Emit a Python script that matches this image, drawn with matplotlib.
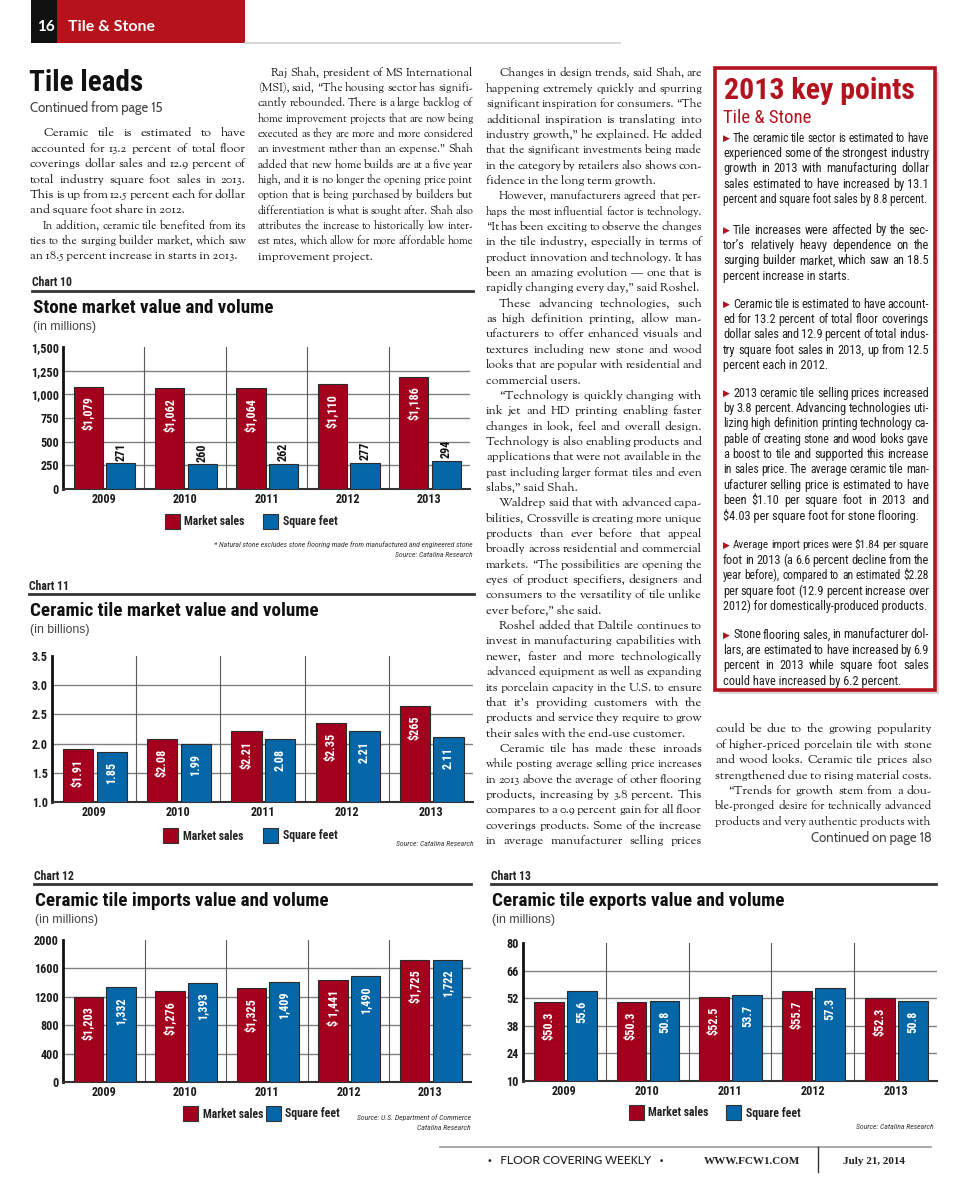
# -*- coding: utf-8 -*-
import numpy as np
import matplotlib
matplotlib.use('Agg')
import matplotlib.pyplot as plt
from matplotlib import font_manager as fm
from matplotlib.patches import Rectangle
from matplotlib.lines import Line2D

plt.rcParams['text.parse_math'] = False

# ---- data ----
years = ['2009', '2010', '2011', '2012', '2013']

stone_sales = [1079, 1062, 1064, 1110, 1186]
stone_sqft = [271, 260, 262, 277, 294]

ceramic_sales = [1.91, 2.08, 2.21, 2.35, 2.65]
ceramic_sales_lbl = ['$1.91', '$2.08', '$2.21', '$2.35', '$265']
ceramic_sqft = [1.85, 1.99, 2.08, 2.21, 2.11]

import_sales = [1203, 1276, 1325, 1441, 1725]
import_sales_lbl = ['$1,203', '$1,276', '$1,325', '$ 1,441', '$1,725']
import_sqft = [1332, 1393, 1409, 1490, 1722]

export_sales = [50.3, 50.3, 52.5, 55.7, 52.3]
export_sqft = [55.6, 50.8, 53.7, 57.3, 50.8]

col1 = [
    ["Ceramic tile is estimated to have",
     "accounted for 13.2 percent of total floor",
     "coverings dollar sales and 12.9 percent of",
     "total industry square foot sales in 2013.",
     "This is up from 12.5 percent each for dollar",
     "and square foot share in 2012."],
    ["In addition, ceramic tile benefited from its",
     "ties to the surging builder market, which saw",
     "an 18.5 percent increase in starts in 2013."],
]
col2 = [
    ["Raj Shah, president of MS International",
     "(MSI), said, \u201cThe housing sector has signifi-",
     "cantly rebounded. There is a large backlog of",
     "home improvement projects that are now being",
     "executed as they are more and more considered",
     "an investment rather than an expense.\u201d Shah",
     "added that new home builds are at a five year",
     "high, and it is no longer the opening price point",
     "option that is being purchased by builders but",
     "differentiation is what is sought after. Shah also",
     "attributes the increase to historically low inter-",
     "est rates, which allow for more affordable home",
     "improvement project."],
]
col3 = [
    ["Changes in design trends, said Shah, are",
     "happening extremely quickly and spurring",
     "significant inspiration for consumers. \u201cThe",
     "additional inspiration is translating into",
     "industry growth,\u201d he explained. He added",
     "that the significant investments being made",
     "in the category by retailers also shows con-",
     "fidence in the long term growth."],
    ["However, manufacturers agreed that per-",
     "haps the most influential factor is technology.",
     "\u201cIt has been exciting to observe the changes",
     "in the tile industry, especially in terms of",
     "product innovation and technology. It has",
     "been an amazing evolution \u2014 one that is",
     "rapidly changing every day,\u201d said Roshel."],
    ["These advancing technologies, such",
     "as high definition printing, allow man-",
     "ufacturers to offer enhanced visuals and",
     "textures including new stone and wood",
     "looks that are popular with residential and",
     "commercial users."],
    ["\u201cTechnology is quickly changing with",
     "ink jet and HD printing enabling faster",
     "changes in look, feel and overall design.",
     "Technology is also enabling products and",
     "applications that were not available in the",
     "past including larger format tiles and even",
     "slabs,\u201d said Shah."],
    ["Waldrep said that with advanced capa-",
     "bilities, Crossville is creating more unique",
     "products than ever before that appeal",
     "broadly across residential and commercial",
     "markets. \u201cThe possibilities are opening the",
     "eyes of product specifiers, designers and",
     "consumers to the versatility of tile unlike",
     "ever before,\u201d she said."],
    ["Roshel added that Daltile continues to",
     "invest in manufacturing capabilities with",
     "newer, faster and more technologically",
     "advanced equipment as well as expanding",
     "its porcelain capacity in the U.S. to ensure",
     "that it\u2019s providing customers with the",
     "products and service they require to grow",
     "their sales with the end-use customer."],
    ["Ceramic tile has made these inroads",
     "while posting average selling price increases",
     "in 2013 above the average of other flooring",
     "products, increasing by 3.8 percent. This",
     "compares to a 0.9 percent gain for all floor",
     "coverings products. Some of the increase",
     "in average manufacturer selling prices"],
]
col4 = [
    ["could be due to the growing popularity",
     "of higher-priced porcelain tile with stone",
     "and wood looks. Ceramic tile prices also",
     "strengthened due to rising material costs."],
    ["\u201cTrends for growth stem from a dou-",
     "ble-pronged desire for technically advanced",
     "products and very authentic products with"],
]
key_points = [
    ["The ceramic tile sector is estimated to have",
     "experienced some of the strongest industry",
     "growth in 2013 with manufacturing dollar",
     "sales estimated to have increased by 13.1",
     "percent and square foot sales by 8.8 percent."],
    ["Tile increases were affected by the sec-",
     "tor\u2019s relatively heavy dependence on the",
     "surging builder market, which saw an 18.5",
     "percent increase in starts."],
    ["Ceramic tile is estimated to have account-",
     "ed for 13.2 percent of total floor coverings",
     "dollar sales and 12.9 percent of total indus-",
     "try square foot sales in 2013, up from 12.5",
     "percent each in 2012."],
    ["2013 ceramic tile selling prices increased",
     "by 3.8 percent. Advancing technologies uti-",
     "lizing high definition printing technology ca-",
     "pable of creating stone and wood looks gave",
     "a boost to tile and supported this increase",
     "in sales price. The average ceramic tile man-",
     "ufacturer selling price is estimated to have",
     "been $1.10 per square foot in 2013 and",
     "$4.03 per square foot for stone flooring."],
    ["Average import prices were $1.84 per square",
     "foot in 2013 (a 6.6 percent decline from the",
     "year before), compared to an estimated $2.28",
     "per square foot (12.9 percent increase over",
     "2012) for domestically-produced products."],
    ["Stone flooring sales, in manufacturer dol-",
     "lars, are estimated to have increased by 6.9",
     "percent in 2013 while square foot sales",
     "could have increased by 6.2 percent."],
]
key_y = [138, 230, 304, 393, 545, 635]


# ---- fonts ----
def pick(cands, bold=False, italic=False):
    for c in cands:
        for f in fm.fontManager.ttflist:
            if f.name != c:
                continue
            w = f.weight if isinstance(f.weight, int) else fm.weight_dict.get(f.weight, 400)
            if bold and w < 700:
                continue
            if italic and f.style == 'normal':
                continue
            return c
    return 'DejaVu Sans'

NARROW = ['Roboto Condensed', 'Archivo Narrow', 'PT Sans Narrow', 'Liberation Sans Narrow',
          'Sofia Sans Condensed', 'Barlow Condensed', 'Saira SemiCondensed']
SERIF = pick(['Sorts Mill Goudy', 'EB Garamond', 'Liberation Serif'])
SERIF_B = pick(['Liberation Serif', 'DejaVu Serif'], bold=True)
NAR = pick(NARROW)
NAR_B = pick(NARROW, bold=True)
NAR_I = pick(NARROW, italic=True)
SANS = pick(['Liberation Sans', 'Arimo', 'DejaVu Sans'])
GILL = pick(['Gill Sans', 'Gillius ADF', 'Cabin', 'Lato'])
GILL_B = pick(['Gill Sans', 'Gillius ADF', 'Cabin', 'Lato'], bold=True)

RED = '#a3001e'
BLUE = '#0566a8'
BOXRED = '#b3131f'
INK = '#151515'

W, H = 960, 1189
fig = plt.figure(figsize=(W / 100, H / 100), dpi=100)
fig.patch.set_facecolor('white')
renderer = fig.canvas.get_renderer()


def fx(x):
    return x / W


def fy(y):
    return 1 - y / H


def txt(x, y, s, **kw):
    kw.setdefault('va', 'center')
    return fig.text(fx(x), fy(y), s, **kw)


def rect(x0, y0, x1, y1, **kw):
    fig.add_artist(Rectangle((fx(x0), fy(y1)), (x1 - x0) / W, (y1 - y0) / H,
                             transform=fig.transFigure, **kw))


def hline(x0, x1, y, **kw):
    fig.add_artist(Line2D([fx(x0), fx(x1)], [fy(y), fy(y)], transform=fig.transFigure, **kw))


def put_line(x0, x1, y, line, justify, size, **kw):
    words = line.split()
    if not justify:
        # shrink an over-long last line too
        while True:
            t = txt(x0, y, line, size=size, ha='left', **kw)
            if t.get_window_extent(renderer).width <= x1 - x0 or size < 5:
                return
            t.remove()
            size -= 0.2
    while True:
        ts = [txt(x0, y, w, size=size, ha='left', **kw) for w in words]
        widths = [t.get_window_extent(renderer).width for t in ts]
        gap = (x1 - x0 - sum(widths)) / max(len(ts) - 1, 1)
        if gap >= 1.8 or size < 5:
            break
        for t in ts:
            t.remove()
        size -= 0.2
    pos = x0
    for t, w in zip(ts, widths):
        t.set_x(fx(pos))
        pos += w + gap


def column(x0, x1, y0, paras, lh=15.35, indent=13, size=8.9, first_indent=True,
           open_end=False, **kw):
    y = y0
    for i, para in enumerate(paras):
        for j, line in enumerate(para):
            xs = x0 + (indent if (j == 0 and (i > 0 or first_indent)) else 0)
            last = j == len(para) - 1
            just = (not last) or (open_end and i == len(paras) - 1)
            put_line(xs, x1, y, line, just, size, **kw)
            y += lh


# ---- header ----
rect(31, 0, 57, 43, fc='#111111', ec='none')
rect(57, 0, 245, 43, fc='#b5121b', ec='none')
hline(245, 620, 43, color='#cfcfcf', lw=1.2)
txt(37, 27, '16', color='white', size=11, weight='bold', family=GILL_B)
txt(68, 27, 'Tile & Stone', color='white', size=11.5, weight='bold', family=GILL_B)

# ---- article head ----
txt(29, 83, 'Tile leads', size=21, weight='bold', family=NAR_B, color='#111')
txt(30, 108, 'Continued from page 15', size=9.5, family=GILL, color='#444')

column(30, 246, 133, col1, family=SERIF, color=INK)
column(258, 473, 72, col2, family=SERIF, color=INK)
column(486, 702, 73, col3, family=SERIF, color=INK, open_end=True)
column(715, 932, 729, col4, family=SERIF, color=INK, first_indent=False)
txt(932, 838, 'Continued on page 18', size=9.5, family=GILL, color='#444', ha='right')

# ---- key points box ----
rect(719, 72, 939, 694, fc='#bdbdbd', ec='none', alpha=0.6)
rect(715, 68, 935, 690, fc='white', ec=BOXRED, lw=2.6)
txt(724, 91, '2013 key points', size=21.5, weight='bold', family=NAR_B, color=BOXRED)
txt(723, 118, 'Tile & Stone', size=13.5, family=NAR, color=BOXRED)
for para, y0 in zip(key_points, key_y):
    txt(723, y0 + 0.5, '\u25b6', size=6.5, color=BOXRED, family='DejaVu Sans')
    y = y0
    for j, line in enumerate(para):
        xs = 733 if j == 0 else 723
        put_line(xs, 929, y, line, j < len(para) - 1, 8.9, family=NAR, color='#1e1e1e')
        y += 15.4


# ---- charts ----
def chart(num, lx, ly, lx1, box, ylim, ticks, tick_fmt, red, red_lbl, blue, blue_lbl,
          title, sub, legend, blue_outside=False):
    l, t, r, b = box
    txt(lx, ly, 'Chart %d' % num, size=8.5, weight='bold', family=NAR_B, color='#222')
    hline(lx, lx1, ly + 7.5, color='#333', lw=2)
    txt(lx + 1, ly + 25, title, size=13.8, weight='bold', family=NAR_B, color='#111')
    txt(lx + 1, ly + 44, sub, size=8.8, family=SANS, color='#444')

    ax = fig.add_axes([fx(l), fy(b), (r - l) / W, (b - t) / H])
    x = np.arange(len(years))
    ax.bar(x - 0.19, red, 0.36, color=RED, edgecolor='#2b2b2b', lw=0.8, zorder=3)
    ax.bar(x + 0.21, blue, 0.36, color=BLUE, edgecolor='#2b2b2b', lw=0.8, zorder=3)
    ax.set_xlim(-0.5, len(years) - 0.5)
    ax.set_ylim(*ylim)
    for v in ticks[1:-1]:
        ax.axhline(v, color='#808080', lw=1.0, zorder=1)
    for v in x[:-1] + 0.5:
        ax.axvline(v, color='#5a5a5a', lw=0.8, zorder=1)
    ax.set_yticks(ticks)
    ax.set_yticklabels([tick_fmt(v) for v in ticks])
    ax.set_xticks(x)
    ax.set_xticklabels(years)
    ax.tick_params(length=0, pad=3)
    for lab in ax.get_yticklabels() + ax.get_xticklabels():
        lab.set_family(NAR_B)
        lab.set_weight('bold')
        lab.set_size(8.7)
        lab.set_color('#1a1a1a')
    for s in ('top', 'right'):
        ax.spines[s].set_visible(False)
    ax.spines['left'].set_linewidth(2)
    ax.spines['left'].set_color('#111')
    ax.spines['bottom'].set_linewidth(1.5)
    ax.spines['bottom'].set_color('#333')
    ax.patch.set_alpha(0)

    lab_kw = dict(rotation=90, ha='center', textcoords='offset points', weight='bold',
                  family=NAR_B, size=8.7, zorder=4)
    for xi, v, s in zip(x, red, red_lbl):
        ax.annotate(s, (xi - 0.19, v), xytext=(0, -7), va='top', color='white', **lab_kw)
    for xi, v, s in zip(x, blue, blue_lbl):
        if blue_outside:
            ax.annotate(s, (xi + 0.21, v), xytext=(0, 2), va='bottom', color='#111', **lab_kw)
        else:
            ax.annotate(s, (xi + 0.21, v), xytext=(0, -7), va='top', color='white', **lab_kw)

    (ly_leg, rx0, tx0, bx0, tx1) = legend
    rect(rx0, ly_leg - 8, rx0 + 15, ly_leg + 7, fc=RED, ec='#333', lw=0.8)
    txt(tx0, ly_leg, 'Market sales', size=8.5, weight='bold', family=NAR_B, color='#222')
    rect(bx0, ly_leg - 8, bx0 + 15, ly_leg + 7, fc=BLUE, ec='#333', lw=0.8)
    txt(tx1, ly_leg, 'Square feet', size=8.5, weight='bold', family=NAR_B, color='#222')
    return ax


chart(10, 32, 283, 473, (63, 347, 470, 489), (0, 1500), [0, 250, 500, 750, 1000, 1250, 1500],
      lambda v: '{:,}'.format(v), stone_sales, ['${:,}'.format(v) for v in stone_sales],
      stone_sqft, [str(v) for v in stone_sqft],
      'Stone market value and volume', '(in millions)', (522, 165, 184, 263, 283),
      blue_outside=True)
txt(473, 545, '* Natural stone excludes stone flooring made from manufactured and engineered stone',
    size=5.6, style='italic', family=NAR_I, color='#333', ha='right')
txt(473, 555, 'Source: Catalina Research', size=5.6, style='italic', family=NAR_I,
    color='#333', ha='right')

chart(11, 29, 586, 474, (52, 656, 473, 802), (1.0, 3.5), [1.0, 1.5, 2.0, 2.5, 3.0, 3.5],
      lambda v: '%.1f' % v, ceramic_sales, ceramic_sales_lbl,
      ceramic_sqft, ['%.2f' % v for v in ceramic_sqft],
      'Ceramic tile market value and volume', '(in billions)', (836, 163, 183, 263, 283))
txt(474, 844, 'Source: Catalina Research', size=5.6, style='italic', family=NAR_I,
    color='#333', ha='right')

chart(12, 34, 876, 471, (63, 940, 471, 1082), (0, 2000), [0, 400, 800, 1200, 1600, 2000],
      lambda v: str(v), import_sales, import_sales_lbl,
      import_sqft, ['{:,}'.format(v) for v in import_sqft],
      'Ceramic tile imports value and volume', '(in millions)', (1114, 183, 203, 266, 285))
txt(471, 1118, 'Source: U.S. Department of Commerce', size=5.6, style='italic', family=NAR_I,
    color='#333', ha='right')
txt(471, 1128, 'Catalina Research', size=5.6, style='italic', family=NAR_I,
    color='#333', ha='right')

chart(13, 491, 876, 936, (523, 943, 937, 1081), (10, 80), [10, 24, 38, 52, 66, 80],
      lambda v: str(v), export_sales, ['$%.1f' % v for v in export_sales],
      export_sqft, ['%.1f' % v for v in export_sqft],
      'Ceramic tile exports value and volume', '(in millions)', (1113, 629, 648, 726, 746))
txt(934, 1127, 'Source: Catalina Research', size=5.6, style='italic', family=NAR_I,
    color='#333', ha='right')

# ---- footer ----
hline(440, 931, 1147, color='#9a9a9a', lw=1.2)
fig.add_artist(Line2D([fx(818), fx(818)], [fy(1147), fy(1172)], transform=fig.transFigure,
                      color='#333', lw=1))
txt(488, 1161, '\u2022   FLOOR COVERING WEEKLY   \u2022', size=9, family=GILL, color='#222')
txt(704, 1161, 'WWW.FCW1.COM', size=8, family=SERIF_B, weight='bold', color='#222')
txt(843, 1161, 'July 21, 2014', size=8, family=SERIF_B, weight='bold', color='#222')

fig.savefig('out.png', dpi=100)
